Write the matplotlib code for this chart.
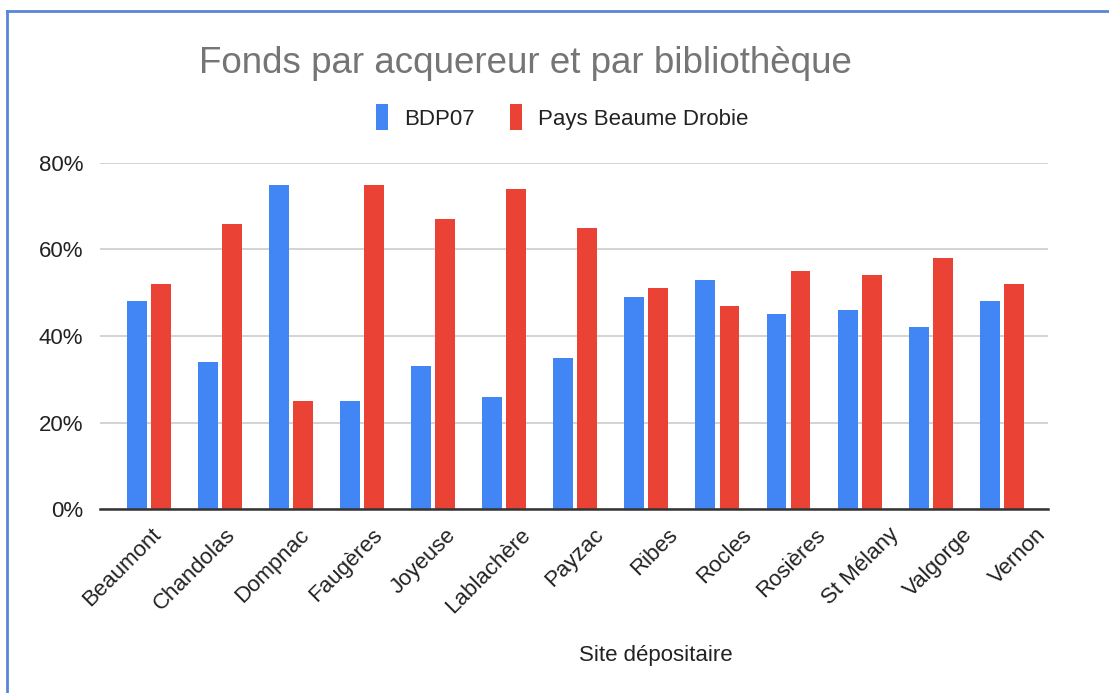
import numpy as np
import matplotlib.pyplot as plt
from matplotlib.lines import Line2D
from matplotlib.ticker import PercentFormatter
from matplotlib.transforms import ScaledTranslation

plt.rcParams['font.family'] = ['Liberation Sans', 'DejaVu Sans']

# données
sites = ['Beaumont', 'Chandolas', 'Dompnac', 'Faugères', 'Joyeuse', 'Lablachère',
         'Payzac', 'Ribes', 'Rocles', 'Rosières', 'St Mélany', 'Valgorge', 'Vernon']
bdp07 = [48, 34, 75, 25, 33, 26, 35, 49, 53, 45, 46, 42, 48]
beaume_drobie = [52, 66, 25, 75, 67, 74, 65, 51, 47, 55, 54, 58, 52]

blue = '#4285F4'
red = '#EA4335'

fig = plt.figure(figsize=(11.09, 6.93), dpi=100)
ax = fig.add_axes([0.0902, 0.2655, 0.8548, 0.4993])

x = np.arange(len(sites))
w = 0.28
ax.bar(x - 0.169, bdp07, w, color=blue, label='BDP07', zorder=3)
ax.bar(x + 0.169, beaume_drobie, w, color=red, label='Pays Beaume Drobie', zorder=3)

ax.set_xlim(-0.685, 12.65)
ax.set_ylim(0, 80)
ax.set_yticks([0, 20, 40, 60, 80])
ax.yaxis.set_major_formatter(PercentFormatter(decimals=0))
ax.grid(axis='y', color='#cccccc', linewidth=1.2, zorder=0)
for s in ['top', 'right', 'left']:
    ax.spines[s].set_visible(False)
ax.spines['bottom'].set_color('#333333')
ax.spines['bottom'].set_linewidth(1.8)
ax.spines['bottom'].set_zorder(4)
ax.tick_params(axis='y', length=0, pad=12, labelsize=16, labelcolor='#222222')
ax.tick_params(axis='x', length=0, pad=11, labelsize=16, labelcolor='#222222')
ax.set_xticks(x)
ax.set_xticklabels(sites, rotation=45, ha='right', rotation_mode='anchor')

# les étiquettes s'écartent un peu plus que les barres
for i, lbl in enumerate(ax.get_xticklabels()):
    dx = (2 + i * 2.67) / 100
    lbl.set_transform(lbl.get_transform() + ScaledTranslation(dx, 0, fig.dpi_scale_trans))

fig.text(0.591, 1 - 655 / 693, 'Site dépositaire', ha='center', va='center',
         fontsize=16, color='#222222')
fig.text(0.474, 0.909, 'Fonds par acquereur et par bibliothèque', ha='center',
         va='center', fontsize=26.5, color='#757575')

leg = fig.legend(loc='center', bbox_to_anchor=(0.507, 0.831), ncol=2, frameon=False,
                 fontsize=16, handlelength=0.55, handleheight=1.4, handletextpad=0.7,
                 columnspacing=1.6)
for t in leg.get_texts():
    t.set_color('#222222')

# cadre bleu
fig.add_artist(Line2D([7 / 1109, 7 / 1109], [0, 1 - 11 / 693], color='#5b85d6', linewidth=2))
fig.add_artist(Line2D([7 / 1109, 1], [1 - 11 / 693, 1 - 11 / 693], color='#5b85d6', linewidth=2))

fig.savefig('out.png', dpi=100)
